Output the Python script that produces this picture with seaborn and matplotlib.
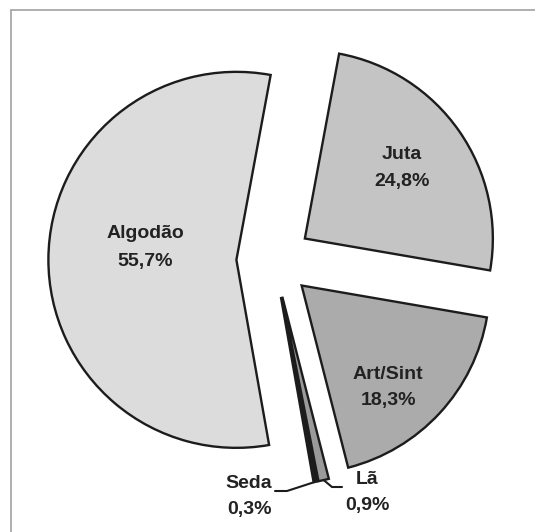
import math
import matplotlib
matplotlib.use("Agg")
import matplotlib.pyplot as plt
import seaborn as sns

# Participação de cada fibra (%)
fibras = ["Algodão", "Seda", "Lã", "Art/Sint", "Juta"]
participacao = [55.7, 0.3, 0.9, 18.3, 24.8]
rotulos = ["55,7%", "0,3%", "0,9%", "18,3%", "24,8%"]
cores = ["#dcdcdc", "#1e1e1e", "#9a9a9a", "#ababab", "#c4c4c4"]

sns.set_theme(style="white")
plt.rcParams["font.family"] = ["Liberation Sans", "DejaVu Sans"]

W, H = 535, 532
fig = plt.figure(figsize=(W / 100, H / 100), dpi=100)
ax = fig.add_axes([0, 0, 1, 1])

# canvas in pixel units (y measured from the top)
def px(x, y):
    return x, H - y

R = 188
centro = px(274, 260)
afastamento = 0.2 * R

fatias, _ = ax.pie(
    participacao,
    colors=sns.color_palette(cores),
    startangle=79.5,
    counterclock=True,
    radius=R,
    center=centro,
    explode=[afastamento] * len(participacao),
    wedgeprops=dict(edgecolor="#1c1c1c", linewidth=1.7, joinstyle="miter"),
)

# label placement: x centre, baseline of name, baseline of percentage
pos_rotulo = {
    "Algodão": (145, 238, 266),
    "Juta": (402, 159, 186),
    "Art/Sint": (388, 379, 405),
    "Seda": (249, 488, 514),
    "Lã": (367, 484, 510),
}
estilo = dict(ha="center", va="baseline", fontsize=14, fontweight="bold",
              color="#222222")
for nome, txt in zip(fibras, rotulos):
    x, y1, y2 = pos_rotulo[nome]
    ax.text(*px(x, y1), nome, **estilo)
    ax.text(*px(x, y2), txt, **estilo)

# leader lines for the two thin slices
def ponta(fatia):
    tm = math.radians(0.5 * (fatia.theta1 + fatia.theta2))
    cx, cy = fatia.center
    return cx + fatia.r * math.cos(tm), cy + fatia.r * math.sin(tm)

cotovelos = {"Seda": [(287, 491), (275, 491)], "Lã": [(332, 487), (342, 487)]}
for nome, pts in cotovelos.items():
    fatia = fatias[fibras.index(nome)]
    x0, y0 = ponta(fatia)
    xs = [x0] + [px(*p)[0] for p in pts]
    ys = [y0] + [px(*p)[1] for p in pts]
    ax.plot(xs, ys, color="#1c1c1c", lw=1.5, solid_joinstyle="miter")

# outer frame (left and top edges)
ax.plot([10.5, 10.5], [0, H - 9.5], color="#a8a8a8", lw=1.3)
ax.plot([10.5, W], [H - 9.5, H - 9.5], color="#a8a8a8", lw=1.3)

ax.set_xlim(0, W)
ax.set_ylim(0, H)
ax.set_aspect("equal")
ax.axis("off")

fig.savefig("out.png", dpi=100, facecolor="white")
